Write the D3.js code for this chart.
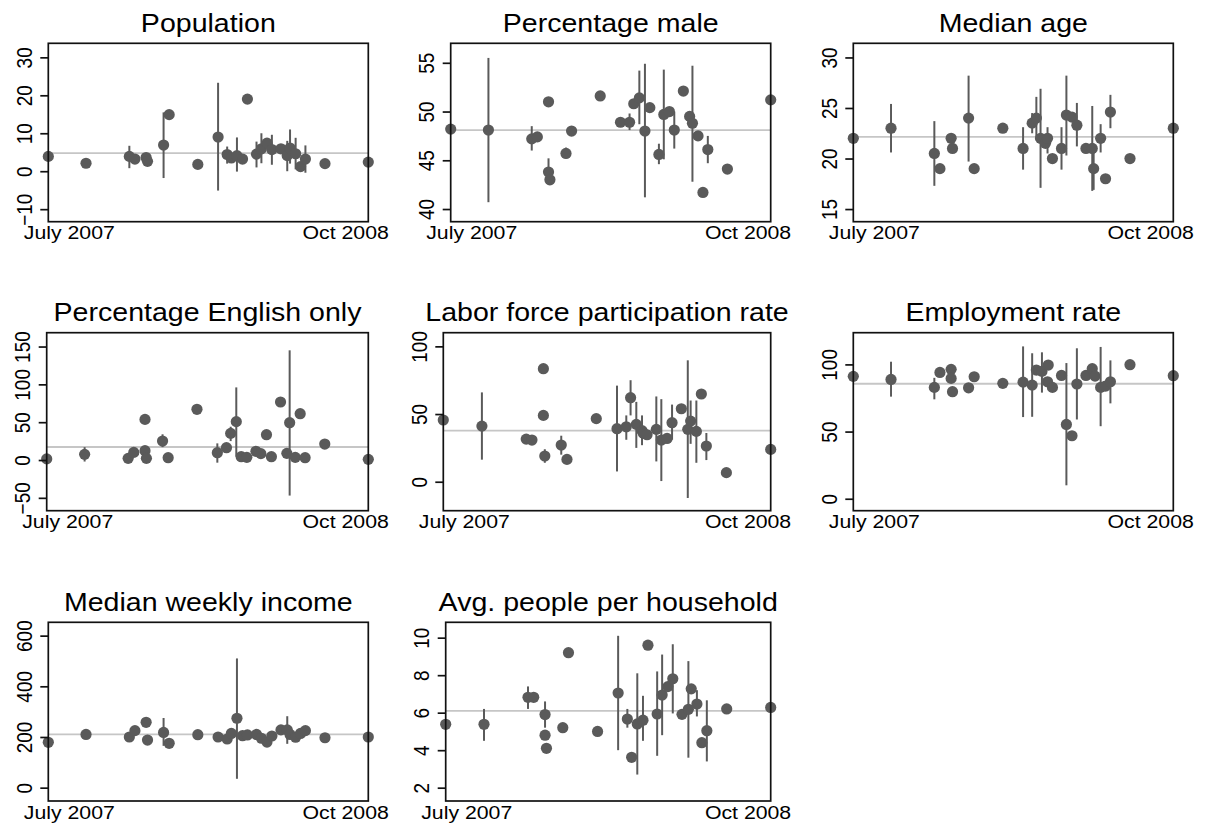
<!DOCTYPE html>
<html>
<head>
<meta charset="utf-8">
<script src="https://cdn.jsdelivr.net/npm/d3@7"></script>
<style>
  html, body { margin: 0; padding: 0; background: #fff; }
  svg { display: block; }
</style>
</head>
<body>
<script>
// ---------------- DATA ----------------
// each row: [survey date, estimate, lower bound, upper bound]
const population = [
  ["2007-07-01", 3.9], ["2007-08-24", 2.1], ["2007-10-25", 3.9, 0.8, 6.7],
  ["2007-11-02", 3.2], ["2007-11-18", 3.6], ["2007-11-20", 2.6],
  ["2007-12-13", 6.9, -1.8, 15.5], ["2007-12-21", 14.9], ["2008-01-31", 1.8],
  ["2008-02-29", 9.0, -5.1, 23.3], ["2008-03-13", 4.4, 2.0, 6.5], ["2008-03-19", 3.5],
  ["2008-03-27", 4.1, -0.1, 8.9], ["2008-04-04", 3.2], ["2008-04-11", 19.0],
  ["2008-04-24", 4.5, 1.0, 7.8], ["2008-05-01", 5.9, 2.1, 10.0], ["2008-05-09", 7.4],
  ["2008-05-16", 5.7, 1.7, 9.6], ["2008-05-29", 5.9], ["2008-06-07", 4.1, 0.0, 8.0],
  ["2008-06-11", 6.1, 2.0, 11.0], ["2008-06-19", 4.6, 0.5, 8.8], ["2008-06-26", 1.2],
  ["2008-07-03", 3.2, -0.4, 6.8], ["2008-07-31", 2.0], ["2008-10-01", 2.4]
];
const percentageMale = [
  ["2007-07-01", 48.2], ["2007-08-24", 48.1, 40.7, 55.5], ["2007-10-25", 47.2, 46.0, 48.5],
  ["2007-11-02", 47.4], ["2007-11-18", 51.0], ["2007-11-18", 43.8, 42.8, 45.2],
  ["2007-11-20", 43.0], ["2007-12-13", 45.7, 45.2, 46.3], ["2007-12-21", 48.0],
  ["2008-01-31", 51.6], ["2008-02-29", 48.9], ["2008-03-13", 48.9, 48.1, 49.8],
  ["2008-03-19", 50.8], ["2008-03-27", 51.4, 48.7, 54.2], ["2008-04-04", 48.0, 41.2, 54.9],
  ["2008-04-11", 50.4], ["2008-04-24", 45.6, 44.6, 46.7], ["2008-05-01", 49.7, 45.1, 54.3],
  ["2008-05-09", 50.0], ["2008-05-16", 48.1, 46.2, 50.0], ["2008-05-29", 52.1],
  ["2008-06-07", 49.5], ["2008-06-11", 48.8, 42.8, 54.7], ["2008-06-19", 47.5],
  ["2008-06-26", 41.7], ["2008-07-03", 46.1, 44.7, 47.5], ["2008-07-31", 44.1],
  ["2008-10-01", 51.2]
];
const medianAge = [
  ["2007-07-01", 22.0], ["2007-08-24", 23.0, 20.6, 25.4], ["2007-10-25", 20.5, 17.3, 23.7],
  ["2007-11-02", 19.0], ["2007-11-18", 22.0], ["2007-11-20", 21.0],
  ["2007-12-13", 24.0, 19.7, 28.2], ["2007-12-21", 19.0], ["2008-01-31", 23.0],
  ["2008-02-29", 21.0, 18.9, 23.1], ["2008-03-13", 23.5, 22.5, 24.5], ["2008-03-19", 24.0, 21.8, 26.1],
  ["2008-03-25", 22.0, 17.1, 26.9], ["2008-04-01", 21.5], ["2008-04-04", 22.0, 20.5, 23.1],
  ["2008-04-11", 20.0], ["2008-04-24", 21.0, 18.9, 23.1], ["2008-05-01", 24.3, 20.3, 28.2],
  ["2008-05-09", 24.1], ["2008-05-16", 23.3, 21.2, 25.5], ["2008-05-29", 21.0],
  ["2008-06-07", 21.0, 16.8, 25.2], ["2008-06-09", 19.0, 16.9, 21.0], ["2008-06-19", 22.0, 20.6, 23.4],
  ["2008-06-26", 18.0], ["2008-07-03", 24.6, 23.0, 26.3], ["2008-07-31", 20.0],
  ["2008-10-01", 23.0]
];
const percentageEnglishOnly = [
  ["2007-07-01", 1.5], ["2007-08-24", 7.5, -2, 17], ["2007-10-25", 2.2],
  ["2007-11-02", 10.1], ["2007-11-18", 53.7], ["2007-11-18", 12.3],
  ["2007-11-20", 2.2], ["2007-12-13", 25.1, 17, 34], ["2007-12-21", 3.1],
  ["2008-01-31", 67.0], ["2008-02-29", 9.7, -3.5, 22], ["2008-03-13", 16.3],
  ["2008-03-19", 35.2, 25, 44], ["2008-03-27", 50.7, 4.4, 96], ["2008-04-03", 4.4],
  ["2008-04-11", 3.5], ["2008-04-24", 11.5], ["2008-05-01", 8.4],
  ["2008-05-09", 33.5], ["2008-05-16", 4.4, 0, 9], ["2008-05-29", 76.7],
  ["2008-06-07", 8.8], ["2008-06-11", 49.3, -47, 145], ["2008-06-19", 3.5],
  ["2008-06-26", 61.2], ["2008-07-03", 3.1], ["2008-07-31", 21.1],
  ["2008-10-01", 0.9]
];
const laborForceParticipation = [
  ["2007-07-01", 45.6], ["2007-08-24", 41.1, 16.3, 66], ["2007-10-25", 31.5],
  ["2007-11-02", 30.8], ["2007-11-18", 83.5], ["2007-11-18", 49.0],
  ["2007-11-20", 19.0, 14, 24], ["2007-12-13", 27.1, 20, 34], ["2007-12-21", 16.5],
  ["2008-01-31", 46.6], ["2008-02-29", 39.2, 7.6, 71], ["2008-03-13", 40.6, 31, 49],
  ["2008-03-19", 62.1, 49, 75], ["2008-03-27", 42.4, 25, 59], ["2008-04-04", 37.7, 27, 49],
  ["2008-04-06", 35.7], ["2008-04-11", 34.7], ["2008-04-24", 38.7, 15, 63],
  ["2008-05-01", 30.8, 0.5, 61], ["2008-05-09", 32.0], ["2008-05-16", 43.6, 31, 57],
  ["2008-05-29", 53.9], ["2008-06-07", 38.7, -12, 89.7], ["2008-06-11", 44.8, 28, 60],
  ["2008-06-19", 37.2, 14, 60], ["2008-06-26", 64.8], ["2008-07-03", 26.4, 16, 36],
  ["2008-07-31", 6.7], ["2008-10-01", 23.9]
];
const employmentRate = [
  ["2007-07-01", 91.1], ["2007-08-24", 88.8, 76, 102], ["2007-10-25", 82.9, 74, 90],
  ["2007-11-02", 94.0], ["2007-11-18", 96.3], ["2007-11-18", 89.6],
  ["2007-11-20", 79.7], ["2007-12-13", 82.6], ["2007-12-21", 90.8],
  ["2008-01-31", 85.9], ["2008-02-29", 86.8, 60.8, 113.4], ["2008-03-13", 84.6, 61, 108.3],
  ["2008-03-19", 95.8], ["2008-03-27", 94.8, 79, 109], ["2008-04-04", 87.1],
  ["2008-04-05", 99.5], ["2008-04-11", 82.9], ["2008-04-24", 91.8],
  ["2008-05-01", 55.3, 10, 101], ["2008-05-09", 46.9], ["2008-05-16", 85.4, 59, 112],
  ["2008-05-29", 91.8], ["2008-06-07", 96.8], ["2008-06-11", 91.3],
  ["2008-06-19", 82.9, 54, 113], ["2008-06-26", 83.9], ["2008-07-03", 87.1, 71, 103],
  ["2008-07-31", 99.8], ["2008-10-01", 91.6]
];
const medianWeeklyIncome = [
  ["2007-07-01", 179], ["2007-08-24", 210], ["2007-10-25", 200],
  ["2007-11-02", 225], ["2007-11-18", 258], ["2007-11-20", 188],
  ["2007-12-13", 218, 165, 275], ["2007-12-21", 175], ["2008-01-31", 209],
  ["2008-02-29", 200], ["2008-03-13", 192], ["2008-03-19", 214],
  ["2008-03-27", 274, 35, 510], ["2008-04-04", 205], ["2008-04-11", 208],
  ["2008-04-24", 210], ["2008-05-01", 195], ["2008-05-09", 180],
  ["2008-05-16", 204], ["2008-05-29", 228], ["2008-06-07", 228, 173, 282],
  ["2008-06-11", 210], ["2008-06-19", 199], ["2008-06-26", 214],
  ["2008-07-03", 225], ["2008-07-31", 197], ["2008-10-01", 200]
];
const peoplePerHousehold = [
  ["2007-07-01", 5.38], ["2007-08-24", 5.38, 4.5, 6.2], ["2007-10-25", 6.82, 6.2, 7.4],
  ["2007-11-02", 6.82], ["2007-11-18", 5.9, 5.2, 6.6], ["2007-11-18", 4.8],
  ["2007-11-20", 4.1], ["2007-12-13", 5.2], ["2007-12-21", 9.2],
  ["2008-01-31", 5.0], ["2008-02-29", 7.05, 4.0, 10.1], ["2008-03-13", 5.66, 5.2, 6.2],
  ["2008-03-19", 3.62], ["2008-03-27", 5.4, 2.7, 8.1], ["2008-04-04", 5.6, 4.5, 6.9],
  ["2008-04-11", 9.6], ["2008-04-24", 5.93, 3.7, 8.2], ["2008-05-01", 6.94, 4.8, 9.1],
  ["2008-05-09", 7.39], ["2008-05-16", 7.81, 5.96, 9.65], ["2008-05-29", 5.91],
  ["2008-06-07", 6.18, 3.6, 8.75], ["2008-06-11", 7.27], ["2008-06-19", 6.46, 5.8, 7.2],
  ["2008-06-26", 4.4], ["2008-07-03", 5.04, 3.4, 6.66], ["2008-07-31", 6.2],
  ["2008-10-01", 6.28]
];

const titles = ["Population", "Percentage male", "Median age", "Percentage English only",
  "Labor force participation rate", "Employment rate", "Median weekly income",
  "Avg. people per household"];
const referenceValues = [4.75, 48.1, 22.15, 17.2, 37.7, 85.6, 210.5, 6.1];
const yTickValues = [
  [-10, 0, 10, 20, 30], [40, 45, 50, 55], [15, 20, 25, 30], [-50, 0, 50, 100, 150],
  [0, 50, 100], [0, 50, 100], [0, 200, 400, 600], [2, 4, 6, 8, 10]
];
const xTickLabels = ["July 2007", "Oct 2008"];

// ---------------- LAYOUT ----------------
const seriesList = [population, percentageMale, medianAge, percentageEnglishOnly,
  laborForceParticipation, employmentRate, medianWeeklyIncome, peoplePerHousehold];
// plot region boxes [left, top, right, bottom] and y ranges
const boxes = [
  [48.3, 43.3, 368.3, 221.7], [450.7, 43.3, 770.7, 221.7], [853.3, 43.3, 1173.3, 221.7],
  [46.7, 332.7, 368.3, 510.7], [443.3, 332.7, 770.7, 510.7], [853.3, 332.7, 1173.3, 510.7],
  [48.3, 622.3, 368.3, 801], [445.7, 622.3, 770.7, 801]
];
const yRanges = [
  [-13.3, 33.7], [38.7, 57.0], [13.75, 31.4], [-67, 168.3],
  [-21.4, 110.1], [-8.9, 123.6], [-52.6, 652.6], [1.29, 10.82]
];

const SX = 1.12;             // horizontal stretch of the reference's text
const FONT = "'Liberation Sans', Arial, Helvetica, sans-serif";
const MARK = "#5a5a5a";

const svg = d3.select("body").append("svg")
  .attr("width", 1205).attr("height", 826)
  .style("font-family", FONT);

const parse = d3.timeParse("%Y-%m-%d");
const xExtent = d3.extent(seriesList.flat().map(d => parse(d[0])));

seriesList.forEach((data, i) => {
  const [l, t, r, b] = boxes[i];
  const x = d3.scaleTime().domain(xExtent).range([l, r]);
  const y = d3.scaleLinear().domain(yRanges[i]).range([b, t]);
  const g = svg.append("g");

  // reference line
  g.append("line")
    .attr("x1", l).attr("x2", r)
    .attr("y1", y(referenceValues[i])).attr("y2", y(referenceValues[i]))
    .attr("stroke", "#c6c6c6").attr("stroke-width", 1.8);

  // error bars
  g.selectAll("line.bar").data(data.filter(d => d[2] != null)).join("line")
    .attr("class", "bar")
    .attr("x1", d => x(parse(d[0]))).attr("x2", d => x(parse(d[0])))
    .attr("y1", d => y(d[2])).attr("y2", d => y(d[3]))
    .attr("stroke", MARK).attr("stroke-width", 2);

  // points
  g.selectAll("circle").data(data).join("circle")
    .attr("cx", d => x(parse(d[0]))).attr("cy", d => y(d[1]))
    .attr("r", 5.6).attr("fill", MARK);

  // frame
  g.append("rect")
    .attr("x", l).attr("y", t).attr("width", r - l).attr("height", b - t)
    .attr("fill", "none").attr("stroke", "#111").attr("stroke-width", 1.7);

  // y axis
  const ya = g.append("g").attr("transform", `translate(${l},0)`)
    .call(d3.axisLeft(y).tickValues(yTickValues[i]).tickSize(8).tickFormat(d3.format("d")));
  ya.select(".domain").remove();
  ya.selectAll(".tick line").attr("stroke", "#111").attr("stroke-width", 1.7);
  ya.selectAll(".tick text")
    .attr("x", 0).attr("dy", null)
    .attr("text-anchor", "middle")
    .attr("font-size", 19).attr("font-family", FONT).attr("fill", "#000")
    .attr("transform", `translate(-16.5,0) scale(${SX},1) rotate(-90)`);

  // x axis
  const xa = g.append("g").attr("transform", `translate(0,${b})`)
    .call(d3.axisBottom(x).tickValues(xExtent).tickSize(0).tickFormat((d, k) => xTickLabels[k]));
  xa.select(".domain").remove();
  xa.selectAll(".tick text")
    .attr("y", 0).attr("dy", null)
    .attr("font-size", 19).attr("font-family", FONT).attr("fill", "#000")
    .attr("text-anchor", (d, k) => k === 0 ? "start" : "end")
    .attr("transform", (d, k) => k === 0
      ? `translate(-25,17.5) scale(${SX},1)`
      : `translate(20,17.5) scale(${SX},1)`);

  // title
  g.append("text")
    .attr("transform", `translate(${(l + r) / 2},${t - 11.8}) scale(${SX},1)`)
    .attr("text-anchor", "middle")
    .attr("font-size", 25.5).attr("fill", "#000")
    .text(titles[i]);
});
</script>
</body>
</html>
